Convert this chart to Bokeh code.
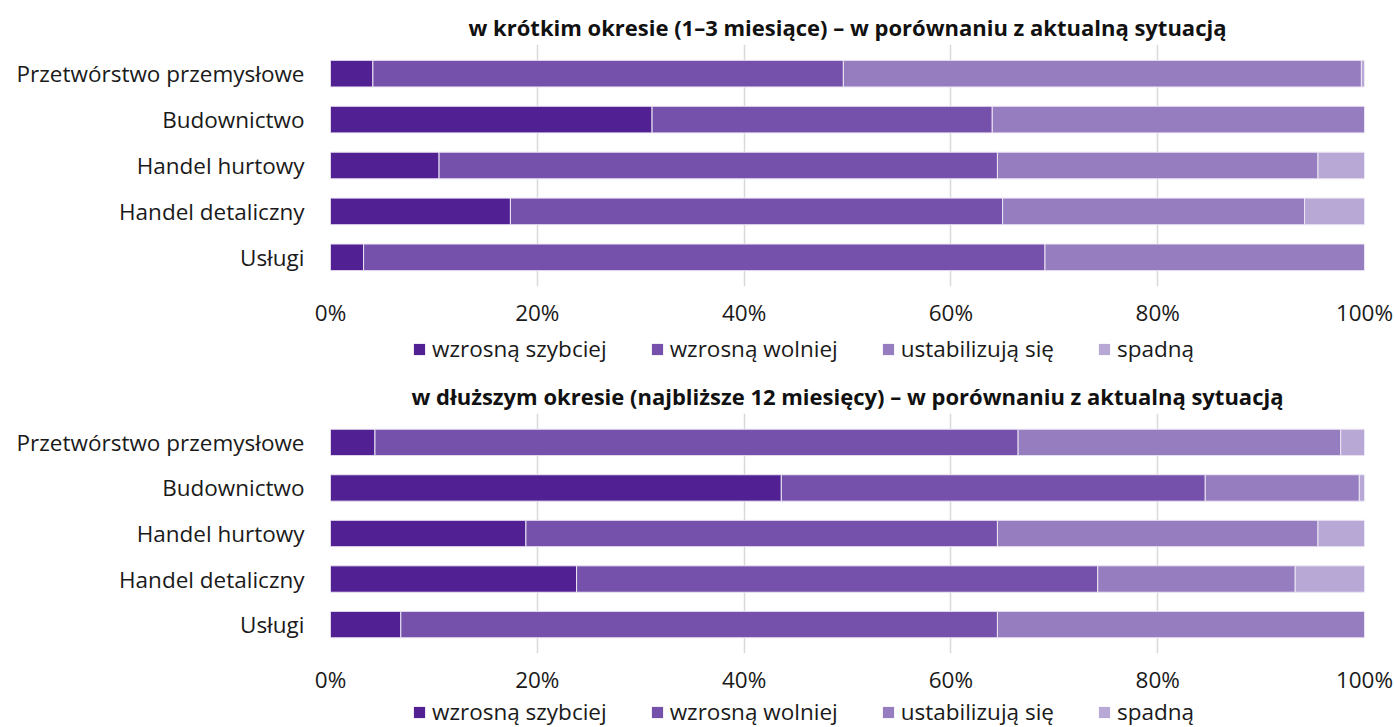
from bokeh.plotting import figure
from bokeh.models import ColumnDataSource, FactorRange, Range1d, Legend, LegendItem, FixedTicker
from bokeh.layouts import column
from bokeh.embed import file_html
from bokeh.resources import INLINE

categories = ["Przetwórstwo przemysłowe", "Budownictwo", "Handel hurtowy", "Handel detaliczny", "Usługi"]
series = ["wzrosną szybciej", "wzrosną wolniej", "ustabilizują się", "spadną"]
colors = ["#512194", "#7551AC", "#967DC0", "#B8A8D6"]

short_fast = [4.1, 31.1, 10.5, 17.4, 3.2]
short_slow = [45.5, 32.9, 54.0, 47.6, 65.9]
short_stable = [50.1, 36.0, 31.0, 29.2, 30.9]
short_fall = [0.3, 0.0, 4.5, 5.8, 0.0]

long_fast = [4.3, 43.6, 18.9, 23.8, 6.8]
long_slow = [62.2, 41.0, 45.6, 50.4, 57.7]
long_stable = [31.2, 14.9, 31.0, 19.1, 35.5]
long_fall = [2.3, 0.5, 4.5, 6.7, 0.0]

titles = [
    "w krótkim okresie (1–3 miesiące) – w porównaniu z aktualną sytuacją",
    "w dłuższym okresie (najbliższe 12 miesięcy) – w porównaniu z aktualną sytuacją",
]
tick_values = [0, 20, 40, 60, 80, 100]
tick_labels = ["0%", "20%", "40%", "60%", "80%", "100%"]

FONT = "Open Sans"
KEYS = ["s0", "s1", "s2", "s3"]


def make_source(vals):
    data = {"cat": categories}
    for k, v in zip(KEYS, vals):
        data[k] = v
    return ColumnDataSource(data)


def make_panel(title, vals, height, top, bottom):
    src = make_source(vals)
    p = figure(
        width=1394, height=height,
        y_range=FactorRange(factors=list(reversed(categories)), range_padding=0.054),
        x_range=Range1d(0, 100),
        output_backend="svg", toolbar_location=None,
        min_border_left=330, min_border_right=30,
        min_border_top=top, min_border_bottom=bottom,
    )
    p.outline_line_color = None
    p.background_fill_color = "white"
    p.border_fill_color = "white"

    p.title.text = title
    p.title.align = "center"
    p.title.text_font = FONT
    p.title.text_font_size = "22px"
    p.title.text_font_style = "bold"
    p.title.text_color = "#111111"
    p.title.standoff = 6

    p.hbar_stack(KEYS, y="cat", height=0.58, source=src, color=colors,
                 line_color="#ece6f4", line_width=1)

    p.ygrid.grid_line_color = None
    p.xgrid.grid_line_color = "#d9d9d9"
    p.xgrid.grid_line_width = 1.5
    p.xaxis.ticker = FixedTicker(ticks=tick_values)
    p.xaxis.major_label_overrides = {v: l for v, l in zip(tick_values, tick_labels)}

    for ax in (p.xaxis[0], p.yaxis[0]):
        ax.axis_line_color = None
        ax.major_tick_line_color = None
        ax.minor_tick_line_color = None
        ax.major_tick_out = 0
        ax.major_tick_in = 0
        ax.major_label_text_font = FONT
        ax.major_label_text_font_size = "22.5px"
        ax.major_label_text_color = "#1a1a1a"
    p.xaxis.major_label_standoff = 10
    p.yaxis.major_label_standoff = 26
    return p


def make_legend(vals, height, vy):
    src = make_source(vals)
    q = figure(width=1394, height=height,
               y_range=FactorRange(factors=list(reversed(categories))),
               x_range=Range1d(0, 100),
               x_axis_type=None, y_axis_type=None,
               output_backend="svg", toolbar_location=None,
               min_border_left=330, min_border_right=30, min_border_top=0, min_border_bottom=0)
    q.outline_line_color = None
    q.grid.grid_line_color = None
    rs = q.hbar_stack(KEYS, y="cat", height=0.58, source=src, color=colors, line_color=None)
    for r in rs:
        r.visible = False
    legend = Legend(
        items=[LegendItem(label=s, renderers=[r]) for s, r in zip(series, rs)],
        orientation="horizontal", location=(82, vy),
        border_line_color=None, background_fill_alpha=0,
        padding=0, margin=0, spacing=43, label_standoff=6,
        glyph_width=14, glyph_height=14, label_height=30,
        label_text_font=FONT, label_text_font_size="22.5px", label_text_color="#1a1a1a",
    )
    q.add_layout(legend, "center")
    return q


short_vals = [short_fast, short_slow, short_stable, short_fall]
long_vals = [long_fast, long_slow, long_stable, long_fall]

p1 = make_panel(titles[0], short_vals, 330, 44, 41)
l1 = make_legend(short_vals, 40, 6)
p2 = make_panel(titles[1], long_vals, 327, 43, 40)
l2 = make_legend(long_vals, 30, 0)

layout = column(p1, l1, p2, l2, spacing=0)
open("out.html", "w").write(file_html(layout, INLINE))
